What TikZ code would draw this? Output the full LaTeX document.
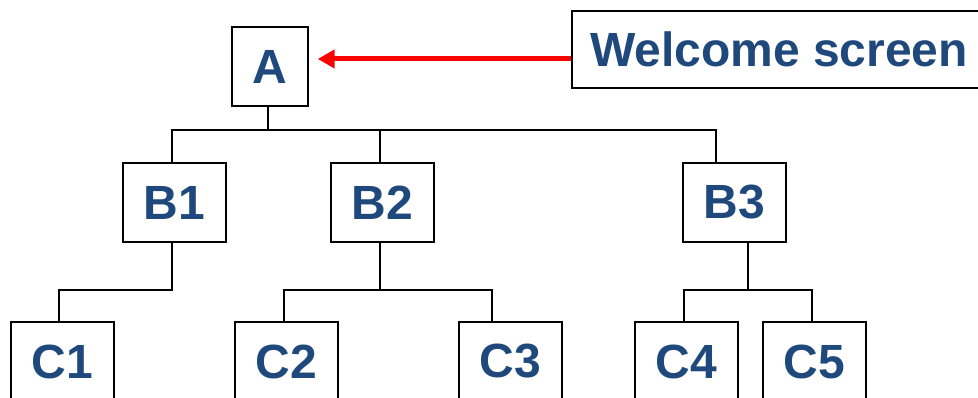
\documentclass[tikz,border=0pt]{standalone}
\usepackage{fontspec}
\setmainfont{Liberation Sans}
\usetikzlibrary{arrows.meta}
\definecolor{txtblue}{RGB}{31,73,125}
\definecolor{arrred}{RGB}{255,0,0}
\tikzset{
  box/.style={draw=black, line width=1.4pt, fill=white, inner sep=0pt,
    minimum width=103pt, minimum height=79pt,
    text=txtblue, font=\fontsize{48}{58}\selectfont\bfseries},
  conn/.style={draw=black, line width=2.2pt},
  redarrow/.style={draw=arrred, line width=5pt, -{Triangle[length=17pt,width=18pt]}}
}
\begin{document}
\begin{tikzpicture}[x=1pt,y=-1pt]
\clip (0,0) rectangle (978,398);
\fill[white] (0,0) rectangle (978,398);
% nodes
\node[box, minimum width=76pt] (A) at (270,66.5) {A};
\node[box, minimum width=414pt, minimum height=77pt] (W) at (779,49.5) {Welcome screen};
\node[box] (B1) at (174.5,202.5) {B1};
\node[box] (B2) at (382.5,202.5) {B2};
\node[box] (B3) at (734.5,202.5) {B3};
\node[box] (C1) at (62.5,361.5) {C1};
\node[box] (C2) at (286.5,361.5) {C2};
\node[box] (C3) at (510.5,361.5) {C3};
\node[box] (C4) at (686.5,361.5) {C4};
\node[box] (C5) at (814.5,361.5) {C5};
% helper coordinates
\coordinate (barA) at (0,130);
\coordinate (barB) at (0,290);
\coordinate (arry) at (0,59);
% level 1 connectors
\draw[conn] ([xshift=-2pt]A.south) -- ([xshift=-2pt]A.south |- barA);
\draw[conn] ([xshift=-2.5pt]B1.north) |- ([xshift=-18.5pt]B3.north |- barA) -- ([xshift=-18.5pt]B3.north);
\draw[conn] ([xshift=-2.5pt]B2.north) -- ([xshift=-2.5pt]B2.north |- barA);
% level 2 connectors
\draw[conn] ([xshift=-2.5pt]B1.south) |- ([xshift=-3.5pt]C1.north |- barB) -- ([xshift=-3.5pt]C1.north);
\draw[conn] ([xshift=-2.5pt]B2.south) -- ([xshift=-2.5pt]B2.south |- barB);
\draw[conn] ([xshift=-2.5pt]C2.north) |- ([xshift=-18.5pt]C3.north |- barB) -- ([xshift=-18.5pt]C3.north);
\draw[conn] ([xshift=13.5pt]B3.south) -- ([xshift=13.5pt]B3.south |- barB);
\draw[conn] ([xshift=-2.5pt]C4.north) |- ([xshift=-2.5pt]C5.north |- barB) -- ([xshift=-2.5pt]C5.north);
% red arrow
\draw[redarrow] (W.west |- arry) -- ([xshift=9pt]A.east |- arry);
\end{tikzpicture}
\end{document}
